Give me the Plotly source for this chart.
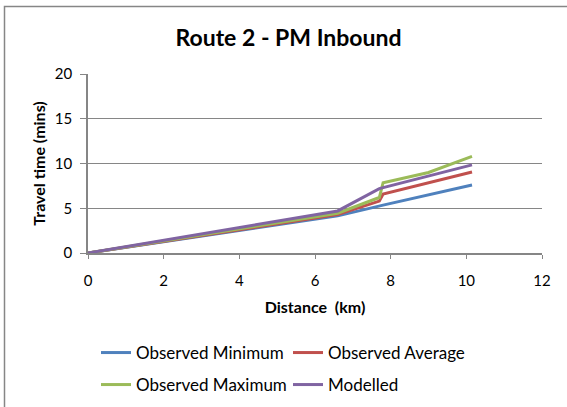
import plotly.graph_objects as go

dist_min = [0, 6.6, 7.8, 10.15]
time_min = [0, 4.15, 5.35, 7.6]

dist_avg = [0, 6.6, 7.7, 7.8, 10.15]
time_avg = [0, 4.3, 5.8, 6.6, 9.05]

dist_max = [0, 6.6, 7.7, 7.8, 9.0, 10.15]
time_max = [0, 4.45, 6.2, 7.85, 9.0, 10.8]

dist_mod = [0, 6.6, 7.7, 10.15]
time_mod = [0, 4.7, 7.2, 9.85]

names = ["Observed Minimum", "Observed Average", "Observed Maximum", "Modelled"]
colors = ["#4F81BD", "#C0504D", "#9BBB59", "#8064A2"]
series = [(dist_min, time_min), (dist_avg, time_avg), (dist_max, time_max), (dist_mod, time_mod)]

FONT = "Lato"
W, H = 567, 407
L, R, T, B = 88, 25, 74, 154
pw, ph = W - L - R, H - T - B

fig = go.Figure()
for i, ((x, y), n, c) in enumerate(zip(series, names, colors)):
    fig.add_trace(go.Scatter(x=x, y=y, mode="lines", name=n,
                             line=dict(color=c, width=3),
                             legend="legend" if i < 2 else "legend2"))


def px_x(p):
    return (p - L) / pw


def px_y(p):
    return (H - B - p) / ph


leg_common = dict(orientation="h", xanchor="left", yanchor="middle",
                  xref="container", yref="container",
                  entrywidth=147, entrywidthmode="pixels",
                  bgcolor="rgba(0,0,0,0)",
                  font=dict(size=17, family=FONT))

fig.update_layout(
    width=W, height=H,
    margin=dict(l=L, r=R, t=T, b=B, autoexpand=False),
    paper_bgcolor="white", plot_bgcolor="white",
    font=dict(family=FONT, size=14, color="black"),
    title=dict(text="<b>Route 2 - PM Inbound</b>", x=288.5 / W, xanchor="center",
               y=1 - 38 / H, yanchor="middle", font=dict(size=23, family=FONT)),
    xaxis=dict(range=[0, 12], dtick=2, showgrid=False, showline=True,
               linecolor="#868686", linewidth=1.5, ticks="outside", ticklen=4,
               tickcolor="#868686", zeroline=False, tickfont=dict(size=15),
               ticklabelstandoff=9,
               title=dict(text="<b>Distance  (km)</b>", font=dict(size=16), standoff=14)),
    yaxis=dict(range=[0, 20], dtick=5, showgrid=True, gridcolor="#868686",
               gridwidth=1, showline=True, linecolor="#868686", linewidth=1.5,
               ticks="outside", ticklen=6, tickcolor="#868686", zeroline=False,
               tickfont=dict(size=15), ticklabelstandoff=5,
               title=dict(text="<b>Travel time (mins)</b>", font=dict(size=16), standoff=5)),
    showlegend=True,
    legend=dict(x=96 / W, y=1 - 353 / H, **leg_common),
    legend2=dict(x=96 / W, y=1 - 385 / H, **leg_common),
    shapes=[dict(type="rect", xref="paper", yref="paper",
                 x0=px_x(4.5), x1=px_x(700),
                 y0=px_y(700), y1=px_y(6.5),
                 line=dict(color="#868686", width=1.5))],
)
fig.write_html("out.html", post_script="document.body.style.margin='0';",
               config={"displayModeBar": False})
